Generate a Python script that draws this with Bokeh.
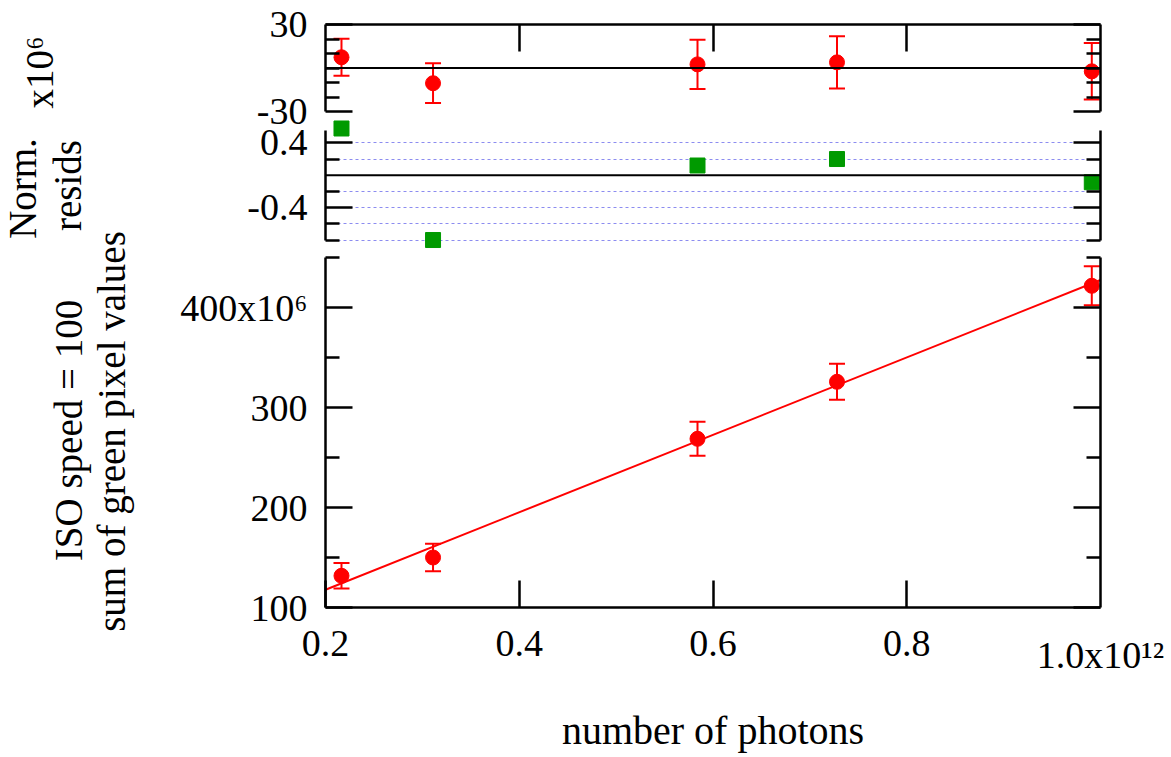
from math import pi
from bokeh.plotting import figure
from bokeh.models import (ColumnDataSource, Range1d, LinearAxis, FixedTicker, Span,
                          Whisker, TeeHead, Grid)
from bokeh.layouts import row, column
from bokeh.core.properties import value
from bokeh.embed import file_html
from bokeh.resources import INLINE

# ---------------- data (x in units of 1e12 photons, y in units of 1e6) ----------------
photons = [0.2165, 0.311, 0.584, 0.728, 0.991]
green_sum = [131.7, 150.0, 268.7, 325.7, 421.7]
green_err = [12.8, 13.7, 17.0, 18.0, 19.5]
resid = [7.4, -10.5, 2.5, 3.9, -2.3]
norm_resid = [0.577, -0.80, 0.12, 0.20, -0.086]
fit_x = [0.2, 1.0]
fit_y = [117.8, 427.5]

x_ticks = [0.2, 0.4, 0.6, 0.8]
x_tick_labels = ["0.2", "0.4", "0.6", "0.8"]
x_end_tick = [1.0]
x_end_label = ["1.0x10\u00b9\u00b2"]
top_ticks = [-30, 30]
top_tick_labels = ["-30", "30"]
top_minor = [-20, -10, 0, 10, 20]
mid_ticks = [-0.4, 0.4]
mid_tick_labels = ["-0.4", "0.4"]
mid_minor = [-0.8, -0.6, -0.2, 0.2]
mid_grid = [-0.8, -0.6, -0.4, -0.2, 0.2, 0.4]
bot_ticks = [100, 200, 300, 400]
bot_tick_labels = ["100", "200", "300", "400x10\u2076"]
bot_minor = [150, 250, 350, 450]

top_ylabel = "x10\u2076"
mid_ylabel = ["Norm.", "resids"]
bot_ylabel = ["ISO speed = 100", "sum of green pixel values"]
xlabel = "number of photons"

# ---------------- style ----------------
FONT = "Liberation Serif"
FS = "38px"
TITLE_FS = "39px"
RED = "#ff0000"
GREEN = "#009a00"
LEFT_W = 168
PANEL_W = 1003
BORDER_L = 157
BORDER_R = 71
TOTAL_H = 757


def base_fig(height, yr, btop, bbot, margin=None):
    p = figure(width=PANEL_W, height=height, x_range=Range1d(0.2, 1.0), y_range=yr,
               x_axis_type=None, y_axis_type=None, output_backend="svg",
               toolbar_location=None, min_border_left=BORDER_L, min_border_right=BORDER_R,
               min_border_top=btop, min_border_bottom=bbot, margin=margin)
    p.outline_line_color = None
    p.background_fill_color = None
    p.border_fill_color = None
    return p


def style_axis(ax, ticks, labels, minor, show_labels=True):
    ax.ticker = FixedTicker(ticks=ticks, minor_ticks=minor)
    ax.axis_line_width = 2.5
    ax.axis_line_color = "black"
    ax.major_tick_line_width = 2.5
    ax.minor_tick_line_width = 2.5
    ax.major_tick_in = 27
    ax.major_tick_out = 0
    ax.minor_tick_in = 14
    ax.minor_tick_out = 0
    ax.major_label_text_font = FONT
    ax.major_label_text_font_size = FS
    ax.major_label_text_color = "black"
    ax.major_label_standoff = 18
    if show_labels:
        ax.major_label_overrides = {t: l for t, l in zip(ticks, labels)}
    else:
        ax.major_label_overrides = {t: "" for t in ticks}
    return ax


def err_source(x, y, e):
    return ColumnDataSource(dict(x=x, y=y, upper=[a + b for a, b in zip(y, e)],
                                 lower=[a - b for a, b in zip(y, e)]))


def add_errorbars(p, src):
    p.add_layout(Whisker(source=src, base="x", upper="upper", lower="lower",
                         dimension="height", line_color=RED, line_width=2,
                         upper_head=TeeHead(size=16, line_color=RED, line_width=2),
                         lower_head=TeeHead(size=16, line_color=RED, line_width=2)))
    p.scatter("x", "y", source=src, marker="circle", size=15, fill_color=RED, line_color=RED)


# ---------------- top panel: residuals (frame y 24..111) ----------------
p1 = base_fig(140, Range1d(-30, 30), 24, 29)
p1.add_layout(style_axis(LinearAxis(), top_ticks, top_tick_labels, top_minor), "left")
p1.add_layout(style_axis(LinearAxis(), top_ticks, top_tick_labels, top_minor, False), "right")
p1.add_layout(style_axis(LinearAxis(), x_ticks[1:], x_tick_labels[1:], [], False), "above")
p1.add_layout(Span(location=0, dimension="width", line_color="black", line_width=2))
add_errorbars(p1, err_source(photons, resid, green_err))

# ---------------- middle panel: normalised residuals (frame y 119..249) ----------------
p2 = base_fig(169, Range1d(-0.917, 0.688), 19, 20, margin=(-40, 0, 0, 0))
axl = style_axis(LinearAxis(), mid_ticks, mid_tick_labels, mid_minor)
axl.bounds = (-0.8, 0.55)
axr = style_axis(LinearAxis(), mid_ticks, mid_tick_labels, mid_minor, False)
axr.bounds = (-0.8, 0.55)
p2.add_layout(axl, "left")
p2.add_layout(axr, "right")
p2.add_layout(Grid(dimension=1, ticker=FixedTicker(ticks=mid_grid), grid_line_color="#8c8cf0",
                   grid_line_dash="3 3", grid_line_width=1))
p2.add_layout(Span(location=0, dimension="width", line_color="black", line_width=2))
p2.scatter(photons, norm_resid, marker="square", size=15, fill_color=GREEN, line_color=GREEN)

# ---------------- bottom panel: data + fit (frame y 257..607) ----------------
p3 = base_fig(517, Range1d(100, 450), 17, 150, margin=(-29, 0, 0, 0))
p3.add_layout(style_axis(LinearAxis(), bot_ticks, bot_tick_labels, bot_minor), "left")
p3.add_layout(style_axis(LinearAxis(), bot_ticks, bot_tick_labels, bot_minor, False), "right")
axb = style_axis(LinearAxis(), x_ticks, x_tick_labels, [])
axb.major_label_standoff = 23
p3.add_layout(axb, "below")
axm = LinearAxis(ticker=FixedTicker(ticks=x_end_tick, minor_ticks=[]))
axm.axis_line_color = None
axm.major_tick_line_color = None
axm.minor_tick_line_color = None
axm.major_label_overrides = {t: l for t, l in zip(x_end_tick, x_end_label)}
axm.major_label_text_font = FONT
axm.major_label_text_font_size = FS
axm.major_label_text_color = "black"
axm.major_label_standoff = -31
axm.axis_label = xlabel
axm.axis_label_text_font = FONT
axm.axis_label_text_font_size = "40px"
axm.axis_label_text_font_style = "normal"
axm.axis_label_text_color = "black"
axm.axis_label_standoff = 29
p3.add_layout(axm, "below")
p3.line(fit_x, fit_y, line_color=RED, line_width=2)
add_errorbars(p3, err_source(photons, green_sum, green_err))

# ---------------- left column with the rotated y-axis titles ----------------
lf = figure(width=LEFT_W, height=TOTAL_H, x_range=Range1d(0, LEFT_W), y_range=Range1d(0, TOTAL_H),
            x_axis_type=None, y_axis_type=None, output_backend="svg", toolbar_location=None,
            min_border=0)
lf.outline_line_color = None
lf.background_fill_color = None
lf.border_fill_color = None
# (x, centre y) in pixels from the top-left corner of the page
title_pos = [(39, 72), (22, 188), (67, 185), (68, 430), (111, 431)]
title_txt = [top_ylabel] + mid_ylabel + bot_ylabel
lf.text(x=[p[0] for p in title_pos], y=[TOTAL_H - p[1] for p in title_pos], text=title_txt,
        angle=pi / 2, text_align="center", text_baseline="alphabetic",
        text_font=value(FONT), text_font_size=value(TITLE_FS), text_color="black")

layout = row(lf, column(p1, p2, p3))
open("out.html", "w").write(file_html(layout, INLINE))
